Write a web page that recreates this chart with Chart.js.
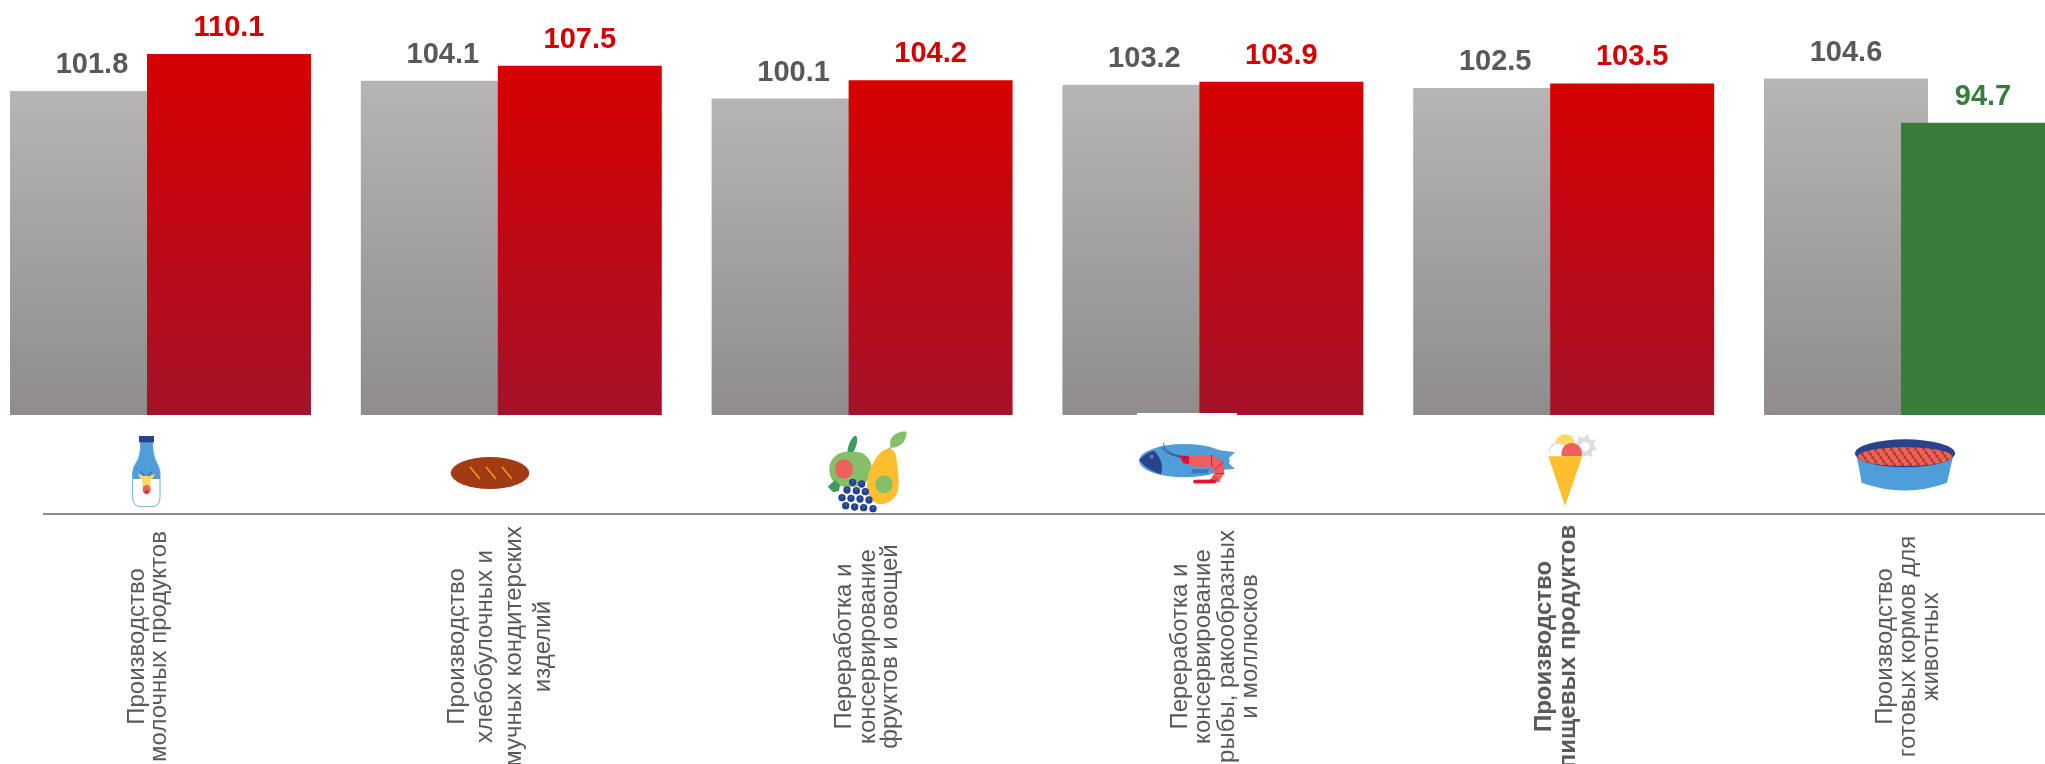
<!DOCTYPE html>
<html><head><meta charset="utf-8">
<style>html,body{margin:0;padding:0;background:#fff;overflow:hidden}canvas{display:block}</style>
<script src="https://cdn.jsdelivr.net/npm/chart.js@4/dist/chart.umd.min.js"></script>
</head><body><canvas id="c" width="2045" height="764"></canvas>
<script>
const categories = [
  ['Производство','молочных продуктов'],
  ['Производство','хлебобулочных и','мучных кондитерских','изделий'],
  ['Переработка и','консервирование','фруктов и овощей'],
  ['Переработка и','консервирование','рыбы, ракообразных','и моллюсков'],
  ['Производство','пищевых продуктов'],
  ['Производство','готовых кормов для','животных']
];
const previousValues = [101.8,104.1,100.1,103.2,102.5,104.6];
const currentValues  = [110.1,107.5,104.2,103.9,103.5,94.7];
const boldCategory = 4;
const axisMin = 29, axisMax = 122.26;
const tickLineOffsets = [[-16.7,5.5],[-47.3,-18.9,10.1,38.7],[-11,13,34.4],[-26.3,-2.9,20.6,43.8],[-12.3,11.1],[-22.9,.5,23.5]];
const FONT='"Liberation Sans",Arial,sans-serif', GREY='#595959', RED='#D60000', GREEN='#3A7D3A';
const BLUE='#4F9ED8', NAVY='#2A4289', PINK='#EE6060', YEL='#FDBF2D', LYEL='#FFD966', LGR='#85BF68', DGR='#3C9A62';

function vGrad(ctx,c1,c2){
  const chart=ctx.chart, area=chart.chartArea;
  if(ctx.raw===undefined||!area) return c1;
  const g=chart.ctx.createLinearGradient(0,chart.scales.y.getPixelForValue(ctx.raw),0,area.bottom);
  g.addColorStop(0,c1);g.addColorStop(1,c2);return g;
}
function circ(c,x,y,r,col){c.fillStyle=col;c.beginPath();c.arc(x,y,r,0,Math.PI*2);c.fill();}
function ell(c,x,y,rx,ry,col,rot){c.fillStyle=col;c.beginPath();c.ellipse(x,y,rx,ry,rot||0,0,Math.PI*2);c.fill();}
function poly(c,col,pts){c.fillStyle=col;c.beginPath();pts.forEach((p,i)=>i?c.lineTo(p[0],p[1]):c.moveTo(p[0],p[1]));c.closePath();c.fill();}
function at(c,x,y,fn){c.save();c.translate(x,y);c.scale(1/3,1/3);fn(c);c.restore();}

function bottle(c){
  const body=()=>{c.beginPath();c.moveTo(92,50);c.lineTo(128,50);c.lineTo(129,78);c.quadraticCurveTo(131,100,146,125);c.lineTo(150,142);c.lineTo(150,218);c.quadraticCurveTo(150,245,124,245);c.lineTo(94,245);c.quadraticCurveTo(68,245,68,218);c.lineTo(68,142);c.lineTo(72,125);c.quadraticCurveTo(89,100,91,78);c.closePath();};
  body();c.fillStyle='#fff';c.fill();c.strokeStyle='#6FB0E2';c.lineWidth=3;c.stroke();
  c.save();body();c.clip();c.fillStyle=BLUE;c.fillRect(60,40,100,122);c.restore();
  c.fillStyle=NAVY;c.fillRect(87,33,45,19);
  c.strokeStyle=NAVY;c.lineWidth=2.5;c.beginPath();c.moveTo(103,152);c.lineTo(91,138);c.moveTo(115,152);c.lineTo(127,138);c.stroke();
  poly(c,LYEL,[[83,146],[100,153],[120,153],[135,146],[128,160],[122,162],[121,190],[98,190],[96,162],[90,160]]);
  ell(c,110,194,12,14,PINK);
  ell(c,110,200,6,5,'#C9314F');
}
function bread(c){
  ell(c,0,0,118,48,'#A23B14');
  c.strokeStyle='#F2A81D';c.lineWidth=4;c.beginPath();
  [-60,-12,36].forEach(x=>{c.moveTo(x,-18);c.lineTo(x+30,18);});c.stroke();
}
function fruits(c){
  ell(c,112,62,11,31,DGR,.35);
  c.fillStyle=LGR;c.beginPath();c.moveTo(108,82);c.bezierCurveTo(150,72,175,110,170,140);c.bezierCurveTo(165,180,120,190,85,185);c.bezierCurveTo(55,182,42,155,43,130);c.bezierCurveTo(44,95,80,75,108,82);c.fill();
  ell(c,87,132,27,30,PINK);
  poly(c,DGR,[[38,185],[60,165],[75,180],[72,198],[55,202]]);
  c.fillStyle=YEL;c.beginPath();c.moveTo(222,70);c.bezierCurveTo(245,72,245,105,248,130);c.bezierCurveTo(252,170,262,225,205,237);c.bezierCurveTo(160,242,150,190,160,150);c.bezierCurveTo(170,120,190,75,222,70);c.fill();
  ell(c,207,178,26,27,LGR);
  c.strokeStyle=DGR;c.lineWidth=3;c.beginPath();c.moveTo(222,72);c.lineTo(252,38);c.stroke();
  c.fillStyle=LGR;c.beginPath();c.moveTo(275,20);c.bezierCurveTo(240,18,218,40,228,68);c.bezierCurveTo(255,68,275,50,275,20);c.fill();
  [[113,172],[140,177],[96,195],[124,197],[151,200],[81,218],[108,220],[135,222],[162,225],[92,242],[119,246],[146,248],[174,251]].forEach(p=>{circ(c,p[0],p[1],11,'#24408E');circ(c,p[0],p[1]-3,4,'#3E5CAB');});
}
function fish(c){
  c.fillStyle='#fff';c.fillRect(36,24,300,6);
  poly(c,BLUE,[[280,135],[330,142],[303,167],[330,192],[280,195]]);
  ell(c,178,167,136,50,BLUE);
  c.fillStyle=NAVY;c.beginPath();c.moveTo(43,165);c.bezierCurveTo(55,150,72,140,88,137);c.bezierCurveTo(110,160,115,185,108,207);c.bezierCurveTo(80,200,58,185,43,165);c.fill();
  circ(c,80,155,6,'#4F7FC8');
  c.strokeStyle=NAVY;c.lineWidth=2.5;c.beginPath();c.moveTo(115,114);c.quadraticCurveTo(118,145,165,153);c.moveTo(108,125);c.quadraticCurveTo(125,150,165,156);c.stroke();
  poly(c,PINK,[[190,152],[262,150],[295,170],[298,205],[280,232],[250,232],[268,205],[258,185],[205,185],[192,178]]);
  poly(c,'#E8112D',[[162,152],[192,152],[192,178],[175,175]]);
  circ(c,180,158,4,NAVY);
  c.strokeStyle='#E8112D';c.lineWidth=3;c.beginPath();c.moveTo(259,150);c.lineTo(261,185);c.moveTo(295,170);c.lineTo(268,195);c.moveTo(272,206);c.lineTo(298,206);c.moveTo(268,215);c.lineTo(285,232);c.stroke();
  c.lineWidth=11;c.lineCap='round';c.beginPath();c.moveTo(210,230);c.lineTo(268,229);c.stroke();c.lineCap='butt';
  c.strokeStyle=NAVY;c.lineWidth=2;c.beginPath();
  for(let i=0;i<10;i++){c.moveTo(205+i*5,192);c.lineTo(200+i*5,206);} c.stroke();
}
function icecream(c){
  c.strokeStyle='#DDDDDD';c.lineWidth=14;c.beginPath();c.arc(165,65,21,0,Math.PI*2);c.stroke();
  c.lineWidth=9;c.beginPath();
  for(let i=0;i<8;i++){const a=i*Math.PI/4+.2;c.moveTo(165+24*Math.cos(a),65+24*Math.sin(a));c.lineTo(165+35*Math.cos(a),65+35*Math.sin(a));}c.stroke();
  circ(c,105,57,30,LYEL);
  circ(c,85,82,28,'#fff');c.strokeStyle='#D8D8D8';c.lineWidth=4;c.beginPath();c.arc(85,82,28,Math.PI,Math.PI*2);c.stroke();
  circ(c,125,85,31,PINK);
  c.fillStyle='#fff';c.fillRect(50,94,115,30);
  poly(c,YEL,[[55,94],[157,94],[105,243]]);
}
function bowl(c){
  c.fillStyle=BLUE;c.beginPath();c.moveTo(34,72);c.lineTo(50,158);c.quadraticCurveTo(180,205,306,158);c.lineTo(326,72);c.closePath();c.fill();
  ell(c,180,70,150,42,NAVY);
  c.save();c.beginPath();c.ellipse(180,80,142,28,0,0,Math.PI*2);c.clip();
  c.fillStyle='#A8401A';c.fillRect(30,40,300,80);
  for(let r=0;r<6;r++)for(let i=0;i<13;i++){const x=48+i*24+(r%2)*12-r*4,y=50+r*11.5+i*-.6;circ(c,x,y,8,PINK);}
  c.restore();
}

const decorPlugin={
  id:'decor',
  beforeDatasetsDraw(chart){chart.getDatasetMeta(0).controller.draw();},
  beforeDatasetDraw(chart,args){if(args.index===0)return false;},
  afterDraw(chart){
    const c=chart.ctx,x=chart.scales.x;
    c.save();c.textAlign='center';c.textBaseline='middle';c.font='bold 29px '+FONT;
    chart.getDatasetMeta(0).data.forEach((el,i)=>{c.fillStyle=GREY;c.fillText(previousValues[i].toFixed(1),el.x,el.y-26);});
    chart.getDatasetMeta(1).data.forEach((el,i)=>{c.fillStyle=currentValues[i]<100?GREEN:RED;c.fillText(currentValues[i].toFixed(1),el.x,el.y-26);});
    c.restore();
    c.save();c.strokeStyle='#8C8C8C';c.lineWidth=2;c.beginPath();c.moveTo(43,514);c.lineTo(2045,514);c.stroke();c.restore();
    at(c,110,425,bottle);
    at(c,490,473,bread);
    at(c,815,425,fruits);
    at(c,1125,405,fish);
    at(c,1530,425,icecream);
    at(c,1845,430,bowl);
    categories.forEach((lines,i)=>{
      const p=x.getPixelForValue(i);
      lines.forEach((t,j)=>{
        c.save();c.translate(p+tickLineOffsets[i][j],646.5);c.rotate(-Math.PI/2);
        c.textAlign='center';c.textBaseline='alphabetic';c.fillStyle=GREY;
        c.font=(i===boldCategory?'bold ':'')+'24px '+FONT;
        c.fillText(t,0,0);c.restore();
      });
    });
  }
};

new Chart(document.getElementById('c'),{
  type:'bar',
  data:{labels:categories,datasets:[
    {label:'Предыдущий период',data:previousValues,base:axisMin,categoryPercentage:.781,barPercentage:1.197,clip:false,
     backgroundColor:ctx=>vGrad(ctx,'#B6B5B3','#8F8C8B')},
    {label:'Текущий период',data:currentValues,base:axisMin,categoryPercentage:.781,barPercentage:1.197,clip:false,
     backgroundColor:ctx=>ctx.raw<100?GREEN:vGrad(ctx,'#D60000','#A6122A')}
  ]},
  options:{
    responsive:false,animation:false,devicePixelRatio:1,
    layout:{padding:{left:160.5,right:130.5,top:0,bottom:349}},
    plugins:{legend:{display:false},tooltip:{enabled:false}},
    scales:{
      x:{display:false,offset:false,grid:{display:false}},
      y:{display:false,min:axisMin,max:axisMax,grid:{display:false}}
    }
  },
  plugins:[decorPlugin]
});
</script></body></html>
